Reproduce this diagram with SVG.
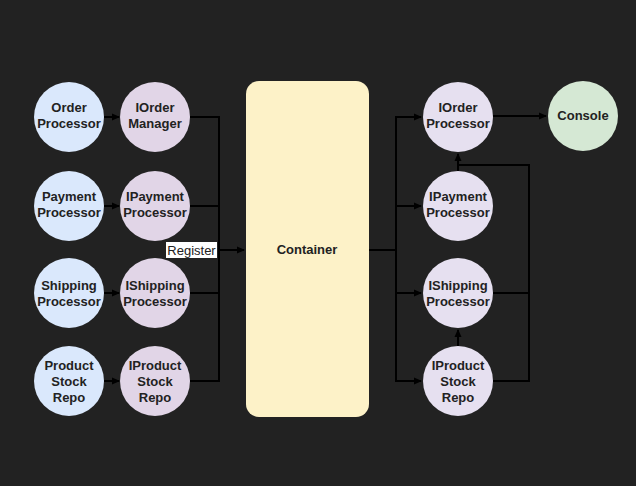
<svg xmlns="http://www.w3.org/2000/svg" width="636" height="486" viewBox="0 0 636 486">
<defs>
<marker id="ah" markerWidth="8" markerHeight="8" refX="7" refY="4" orient="auto" markerUnits="userSpaceOnUse">
<path d="M0,0.5 L8,4 L0,7.5 Z" fill="#000"/>
</marker>
<style>
.t{font-family:"Liberation Sans",Arial,sans-serif;font-weight:bold;font-size:13px;fill:#222;text-anchor:middle}
.c1{fill:#dae8fc}
.c2{fill:#e1d5e7}
.c3{fill:#e6e0f0}
.c4{fill:#d5e8d4}
.ln{stroke:#000;stroke-width:2;fill:none}
</style>
</defs>
<rect width="636" height="486" fill="#222222"/>
<g id="connectors">
<path class="ln" d="M104,117 H119" marker-end="url(#ah)"/>
<path class="ln" d="M104,206 H119" marker-end="url(#ah)"/>
<path class="ln" d="M104,293 H119" marker-end="url(#ah)"/>
<path class="ln" d="M104,381 H119" marker-end="url(#ah)"/>
<path class="ln" d="M190,117 H219 V381 H190"/>
<path class="ln" d="M190,206 H219"/>
<path class="ln" d="M190,293 H219"/>
<path class="ln" d="M219,250 H244" marker-end="url(#ah)"/>
<path class="ln" d="M369,250 H396"/>
<path class="ln" d="M421,117 H396 V381 H421"/>
<path class="ln" d="M396,117 H421" marker-end="url(#ah)"/>
<path class="ln" d="M396,381 H421" marker-end="url(#ah)"/>
<path class="ln" d="M396,206 H421" marker-end="url(#ah)"/>
<path class="ln" d="M396,293 H421" marker-end="url(#ah)"/>
<path class="ln" d="M493,116 H546" marker-end="url(#ah)"/>
<path class="ln" d="M458,171 V154" marker-end="url(#ah)"/>
<path class="ln" d="M458,165 H529 V381 H493"/>
<path class="ln" d="M493,293 H529"/>
<path class="ln" d="M458,346 V330" marker-end="url(#ah)"/>
<rect x="166" y="242" width="51" height="16" fill="#ffffff"/>
<text x="191.5" y="255" style="font-family:'Liberation Sans',Arial,sans-serif;font-size:13px;fill:#222;text-anchor:middle">Register</text>
</g>
<g id="order-processor"><circle class="c1" cx="69" cy="117" r="35"/><text class="t" x="69" y="112">Order</text><text class="t" x="69" y="128">Processor</text></g>
<g id="payment-processor"><circle class="c1" cx="69" cy="206" r="35"/><text class="t" x="69" y="201">Payment</text><text class="t" x="69" y="217">Processor</text></g>
<g id="shipping-processor"><circle class="c1" cx="69" cy="293" r="35"/><text class="t" x="69" y="290">Shipping</text><text class="t" x="69" y="306">Processor</text></g>
<g id="product-stock-repo"><circle class="c1" cx="69" cy="381" r="35"/><text class="t" x="69" y="370">Product</text><text class="t" x="69" y="386">Stock</text><text class="t" x="69" y="402">Repo</text></g>
<g id="iorder-manager"><circle class="c2" cx="155" cy="117" r="35"/><text class="t" x="155" y="112">IOrder</text><text class="t" x="155" y="128">Manager</text></g>
<g id="ipayment-processor-l"><circle class="c2" cx="155" cy="206" r="35"/><text class="t" x="155" y="201">IPayment</text><text class="t" x="155" y="217">Processor</text></g>
<g id="ishipping-processor-l"><circle class="c2" cx="155" cy="293" r="35"/><text class="t" x="155" y="290">IShipping</text><text class="t" x="155" y="306">Processor</text></g>
<g id="iproduct-stock-repo-l"><circle class="c2" cx="155" cy="381" r="35"/><text class="t" x="155" y="370">IProduct</text><text class="t" x="155" y="386">Stock</text><text class="t" x="155" y="402">Repo</text></g>
<g id="container"><rect x="246" y="81" width="123" height="336" rx="13" fill="#fdf2c8"/><text class="t" x="307" y="254">Container</text></g>
<g id="iorder-processor"><circle class="c3" cx="458" cy="117" r="35"/><text class="t" x="458" y="112">IOrder</text><text class="t" x="458" y="128">Processor</text></g>
<g id="ipayment-processor-r"><circle class="c3" cx="458" cy="206" r="35"/><text class="t" x="458" y="201">IPayment</text><text class="t" x="458" y="217">Processor</text></g>
<g id="ishipping-processor-r"><circle class="c3" cx="458" cy="293" r="35"/><text class="t" x="458" y="290">IShipping</text><text class="t" x="458" y="306">Processor</text></g>
<g id="iproduct-stock-repo-r"><circle class="c3" cx="458" cy="381" r="35"/><text class="t" x="458" y="370">IProduct</text><text class="t" x="458" y="386">Stock</text><text class="t" x="458" y="402">Repo</text></g>
<g id="console"><circle class="c4" cx="583" cy="116" r="35"/><text class="t" x="583" y="120">Console</text></g>
</svg>
